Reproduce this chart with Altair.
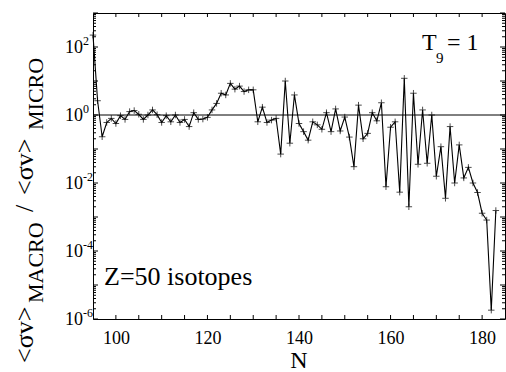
import altair as alt
import pandas as pd

# ---- data ----
n_values = list(range(95, 184))
ratio = [
    224, 2.63, 0.229, 0.603, 0.794, 0.562, 0.955, 0.741, 1.26, 1.35,
    1.05, 0.741, 1.0, 1.41, 1.02, 0.603, 0.955, 0.631, 1.0, 0.603,
    0.741, 0.457, 1.17, 0.741, 0.759, 0.851, 1.41, 2.19, 4.37, 3.89,
    8.51, 5.75, 7.08, 4.90, 5.50, 5.50, 0.631, 1.70, 0.603, 0.708,
    0.794, 0.0708, 10.0, 0.148, 3.89, 0.562, 0.324, 0.182, 0.631, 0.513,
    0.380, 1.17, 0.324, 1.51, 0.339, 0.871, 0.224, 0.0302, 1.95, 0.200,
    0.288, 1.17, 0.676, 2.29, 0.00776, 0.437, 0.631, 0.00537, 12.0, 0.00200,
    4.37, 0.0355, 1.41, 0.0380, 1.0, 0.0158, 0.117, 0.00355, 0.457, 0.0100,
    0.132, 0.0141, 0.0288, 0.0100, 0.00525, 0.00129, 0.000813, 1.82e-6, 0.00155,
]
x_label_values = [100, 120, 140, 160, 180]
x_tick_values = [100, 105, 110, 115, 120, 125, 130, 135, 140, 145, 150,
                 155, 160, 165, 170, 175, 180]
y_label_values = [1e2, 1e0, 1e-2, 1e-4, 1e-6]
y_label_exps = ["2", "0", "-2", "-4", "-6"]
y_major_values = [1e-6, 1e-5, 1e-4, 1e-3, 1e-2, 1e-1, 1e0, 1e1, 1e2, 1e3]
y_minor_values = [k * d for d in y_major_values[:-1] for k in range(2, 10)]
ref_value = [1.0]

W, H = 412, 306
FONT = "'Liberation Serif', 'Times New Roman', Times, 'DejaVu Serif', serif"

df = pd.DataFrame({"N": n_values, "r": ratio})
xs = alt.Scale(domain=[95, 185], nice=False, zero=False)
ys = alt.Scale(type="log", domain=[1e-6, 1e3], nice=False)

X = alt.X("N:Q", scale=xs,
          axis=alt.Axis(values=x_label_values, ticks=False, domain=False, grid=False,
                        labelFont=FONT, labelFontSize=18, labelColor="black",
                        labelPadding=10, title=None))
Y = alt.Y("r:Q", scale=ys, axis=None)

line = alt.Chart(df).mark_line(color="black", strokeWidth=1.1).encode(x=X, y=Y)
pts = alt.Chart(df).mark_point(shape="M-1,0H1M0,-1V1", filled=False, stroke="black",
                               strokeWidth=1, size=42).encode(x=alt.X("N:Q", scale=xs), y=Y)

ref = alt.Chart(pd.DataFrame({"r": ref_value})).mark_rule(color="black", strokeWidth=1).encode(
    y=alt.Y("r:Q", scale=ys, axis=None))

xt = pd.DataFrame({"N": x_tick_values})
xt_bot = alt.Chart(xt).mark_rule(color="black").encode(
    x=alt.X("N:Q", scale=xs), y=alt.value(H), y2=alt.value(H - 4))
xt_top = alt.Chart(xt).mark_rule(color="black").encode(
    x=alt.X("N:Q", scale=xs), y=alt.value(0), y2=alt.value(4))

ymaj = pd.DataFrame({"r": y_major_values})
ymin = pd.DataFrame({"r": y_minor_values})
yt = []
for d, ln in ((ymaj, 5), (ymin, 3)):
    yt.append(alt.Chart(d).mark_rule(color="black").encode(
        y=alt.Y("r:Q", scale=ys, axis=None), x=alt.value(0), x2=alt.value(ln)))
    yt.append(alt.Chart(d).mark_rule(color="black").encode(
        y=alt.Y("r:Q", scale=ys, axis=None), x=alt.value(W), x2=alt.value(W - ln)))

ylab = pd.DataFrame({"r": y_label_values, "e": y_label_exps})
ten = alt.Chart(ylab).mark_text(align="right", baseline="middle", font=FONT, fontSize=18,
                                color="black", dy=1).encode(
    y=alt.Y("r:Q", scale=ys, axis=None), x=alt.value(-10), text=alt.value("10"))
sup = alt.Chart(ylab).mark_text(align="left", baseline="middle", font=FONT, fontSize=12,
                                color="black", dy=-6).encode(
    y=alt.Y("r:Q", scale=ys, axis=None), x=alt.value(-10), text="e:N")

def txt(s, x, y, size, angle=0, align="left"):
    kw = dict(align=align, baseline="alphabetic", font=FONT, fontSize=size, color="black")
    if angle:
        kw["angle"] = angle
    return alt.Chart(pd.DataFrame({"t": [s]})).mark_text(**kw).encode(
        x=alt.value(x), y=alt.value(y), text="t:N")

# y-axis title pieces (rotated)
ytitle = [
    txt("<σv>", -60, 350, 26, 270),
    txt("MACRO", -50, 290, 22, 270),
    txt("/", -60, 199, 26, 270),
    txt("<σv>", -60, 182, 26, 270),
    txt("MICRO", -50, 117, 22, 270),
]

annot = [
    txt("T", 329, 37, 24),
    txt("9", 343, 50, 15),
    txt("= 1", 354, 37, 24),
    txt("Z=50 isotopes", 11, 272, 26),
    txt("N", W / 2, 355, 24, align="center"),
]

chart = alt.layer(line, pts, ref, xt_bot, xt_top, *yt, ten, sup, *ytitle, *annot).properties(
    width=W, height=H, autosize="none",
    padding={"left": 93, "top": 13, "right": 1, "bottom": 53},
    background="white",
).configure_view(stroke="black", strokeWidth=1)

chart.save("out.html", embed_options={"renderer": "svg", "actions": False})
